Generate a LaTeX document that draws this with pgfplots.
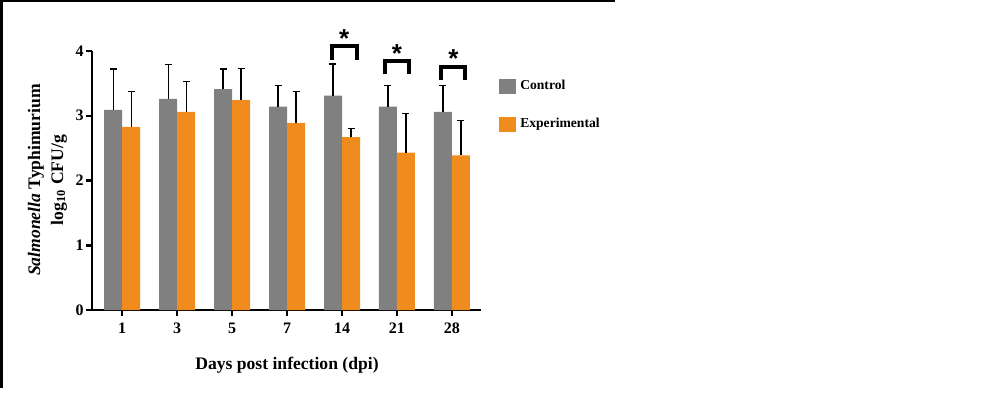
\documentclass[border=0pt]{standalone}
\usepackage{pgfplots}
\pgfplotsset{compat=1.18}
\usepackage{fontspec}
\setmainfont{Liberation Serif}
\newfontfamily\starfont{Liberation Sans}
\definecolor{ctrlgray}{RGB}{128,128,128}
\definecolor{exporange}{RGB}{240,140,30}

\pgfplotstableread{
x y e
0 3.09 0.63
1 3.26 0.53
2 3.41 0.31
3 3.14 0.33
4 3.31 0.49
5 3.14 0.33
6 3.06 0.41
}\controldata

\pgfplotstableread{
x y e
0 2.83 0.54
1 3.06 0.47
2 3.24 0.49
3 2.89 0.48
4 2.67 0.13
5 2.43 0.61
6 2.39 0.54
}\expdata

\begin{document}
\begin{tikzpicture}
\useasboundingbox (0,0) rectangle (500pt,196.5pt);
\draw[line width=0.8pt] (0,196.1pt) -- (307.5pt,196.1pt);
\draw[line width=1.5pt] (0.75pt,196.5pt) -- (0.75pt,2.5pt);
\begin{axis}[
  at={(46pt,41.5pt)}, anchor=south west,
  scale only axis, width=194.5pt, height=129.5pt,
  xmin=-0.55, xmax=6.53, ymin=0, ymax=4,
  clip=false,
  axis x line=bottom, axis y line=left,
  axis line style={line width=1.25pt, -},
  xtick={0,...,6}, xticklabels={1,3,5,7,14,21,28},
  ytick={0,1,2,3,4},
  tick align=outside,
  major tick length=3pt,
  tick style={line width=1.25pt, black},
  /pgf/number format/assume math mode=true,
  tick label style={font=\bfseries\fontsize{8}{9}\selectfont},
  yticklabel style={inner sep=1pt},
  legend style={draw=none, fill=none, inner sep=0pt, at={(1.046,0.905)}, anchor=north west,
    row sep=9pt, nodes={inner sep=2pt, font=\bfseries\fontsize{6.8}{8}\selectfont}},
  legend cell align=left,
]
\addplot[ybar, bar width=9pt, bar shift=-4.5pt, fill=ctrlgray, draw=none,
  legend image code/.code={\fill[ctrlgray] (0pt,-3.75pt) rectangle (8.5pt,3.75pt);},
  error bars/.cd, y dir=plus, y explicit,
  error bar style={line width=0.65pt, black, xshift=-4.5pt},
  error mark options={line width=0.65pt, black, mark size=1.75pt, rotate=90}]
  table[x=x, y=y, y error=e] {\controldata};
\addlegendentry{Control}
\addplot[ybar, bar width=9pt, bar shift=4.5pt, fill=exporange, draw=none,
  legend image code/.code={\fill[exporange] (0pt,-3.75pt) rectangle (8.5pt,3.75pt);},
  error bars/.cd, y dir=plus, y explicit,
  error bar style={line width=0.65pt, black, xshift=4.5pt},
  error mark options={line width=0.65pt, black, mark size=1.75pt, rotate=90}]
  table[x=x, y=y, y error=e] {\expdata};
\addlegendentry{Experimental}
% significance brackets
\addplot[sharp plot, no markers, black, line width=2pt, forget plot]
  coordinates {(3.82,3.86) (3.82,4.08) (4.28,4.08) (4.28,3.86)};
\addplot[sharp plot, no markers, black, line width=2pt, forget plot]
  coordinates {(4.79,3.64) (4.79,3.85) (5.22,3.85) (5.22,3.64)};
\addplot[sharp plot, no markers, black, line width=2pt, forget plot]
  coordinates {(5.81,3.55) (5.81,3.76) (6.24,3.76) (6.24,3.55)};
\node[anchor=base, inner sep=0pt, font=\starfont\bfseries\fontsize{13}{13}\selectfont] at (axis cs:4.04,4.06) {*};
\node[anchor=base, inner sep=0pt, font=\starfont\bfseries\fontsize{13}{13}\selectfont] at (axis cs:5.0,3.83) {*};
\node[anchor=base, inner sep=0pt, font=\starfont\bfseries\fontsize{13}{13}\selectfont] at (axis cs:6.03,3.75) {*};
\end{axis}
\node[rotate=90, align=center, font=\bfseries\fontsize{8.8}{11.5}\selectfont] at (23.75pt,106.5pt)
  {\textit{Salmonella} Typhimurium\\log\textsubscript{10} CFU/g};
\node[font=\bfseries\fontsize{8.8}{10}\selectfont] at (143.5pt,14pt) {Days post infection (dpi)};
\end{tikzpicture}
\end{document}
